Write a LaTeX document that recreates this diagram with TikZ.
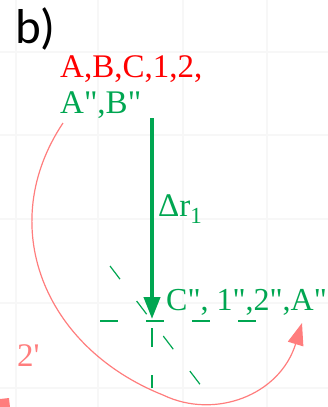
\documentclass[tikz,border=0pt]{standalone}
\usepackage{fontspec}
\setmainfont{Liberation Serif}[Ligatures=TeXOff]
\newfontfamily\calib{Carlito}
\usetikzlibrary{arrows.meta}
\definecolor{grn}{RGB}{0,166,81}
\definecolor{rd}{RGB}{255,0,0}
\definecolor{lred}{RGB}{255,125,125}
\definecolor{gridc}{RGB}{247,247,247}
\tikzset{
  lbl/.style={anchor=base west, inner sep=0pt, font=\fontsize{33}{33}\selectfont},
  gridline/.style={draw=gridc, line width=1.2pt},
  guide/.style={draw=grn, line width=1.2pt},
}
\begin{document}
\begin{tikzpicture}[x=1pt,y=-1pt]
\useasboundingbox (0,0) rectangle (328,407);
% faint grid
\foreach \gx in {16,98,183,267} \draw[gridline] (\gx,0) -- (\gx,407);
\foreach \gy in {52,135,219,303,388} \draw[gridline] (0,\gy) -- (328,\gy);
% label b)
\node[anchor=base west, inner sep=0pt, font=\calib\fontsize{49}{49}\selectfont] (lb) at (15,43) {b)};
% texts
\node[lbl, text=rd] (t1) at (60,77) {A,B,C,1,2,};
\node[lbl, text=grn] (t2) at (60,113) {A",B"};
\node[lbl, text=grn] (dr) at (158,216) {Δr\raisebox{-0.22em}{\fontsize{23}{23}\selectfont 1}};
\node[lbl, text=grn, font=\fontsize{32}{32}\selectfont] (t3) at (166,310) {C", 1",2",A"};
\node[lbl, text=lred] (t4) at (17,366) {2'};
% dashed guides
\coordinate (hs) at (100,321); \coordinate (he) at (256,321);
\coordinate (vs) at (152,328); \coordinate (ve) at (152,388);
\coordinate (ds) at (110,266); \coordinate (de) at (202,387);
\draw[guide, dash pattern=on 18pt off 28pt] (hs) -- (he);
\draw[guide, dash pattern=on 19pt off 28pt] (vs) -- (ve);
\draw[guide, dash pattern=on 16.5pt off 27.5pt] (ds) -- (de);
% green displacement arrow
\coordinate (atop) at (152,118); \coordinate (atip) at (152,319);
\draw[grn, line width=4pt, -{Triangle[length=22pt,width=16pt]}] (atop) -- (atip);
% red curve
\coordinate (cs) at (63,123); \coordinate (cm) at (163,395); \coordinate (ce) at (302,323);
\draw[lred, line width=1.2pt, -{Triangle[length=22pt,width=16pt]}]
  (cs) .. controls (-5,225) and (43,347) .. (cm)
       .. controls (215,420) and (280,395) .. (ce);
% cut-off mark bottom left
\fill[lred] (0,399) -- (9,398) -- (10,407) -- (0,407) -- cycle;
\end{tikzpicture}
\end{document}
